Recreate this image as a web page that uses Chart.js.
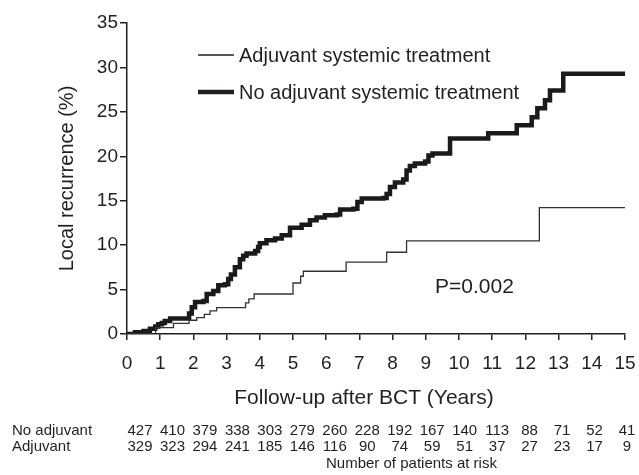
<!DOCTYPE html>
<html>
<head>
<meta charset="utf-8">
<script src="https://cdn.jsdelivr.net/npm/chart.js@4.4.1/dist/chart.umd.min.js"></script>
<style>
  html, body { margin: 0; padding: 0; background: #fff; }
</style>
</head>
<body>
<canvas id="km" width="639" height="475"></canvas>
<script>
'use strict';

// Kaplan-Meier local recurrence (years, %)
const noAdjYears = [0, 0.24, 0.5, 0.69, 0.85, 0.94, 1.05, 1.14, 1.3, 1.8, 1.87, 1.95, 2.05, 2.3, 2.4, 2.6, 2.75, 2.95,
  3.05, 3.13, 3.25, 3.4, 3.5, 3.6, 3.86, 3.95, 4.0, 4.2, 4.46, 4.66, 4.91, 5.26, 5.51, 5.71, 5.96, 6.32, 6.42,
  6.82, 6.94, 7.07, 7.72, 7.82, 7.92, 8.07, 8.32, 8.42, 8.52, 8.67, 8.98, 9.08, 9.2, 9.73, 10.88, 11.74, 12.19,
  12.36, 12.59, 12.74, 13.14, 15];
const noAdjPct = [0, 0.2, 0.35, 0.6, 0.85, 1.1, 1.25, 1.45, 1.75, 1.75, 2.3, 3.0, 3.6, 3.7, 4.5, 4.85, 5.5, 5.6,
  6.2, 6.7, 7.5, 8.4, 8.8, 9.05, 9.35, 9.8, 10.2, 10.55, 10.75, 11.1, 11.95, 12.3, 12.8, 13.1, 13.37, 13.45, 14.0,
  14.1, 14.85, 15.25, 15.3, 15.75, 16.55, 17.05, 17.4, 18.4, 18.9, 19.2, 19.4, 20.1, 20.3, 22.0, 22.6, 23.5, 24.4,
  25.4, 26.3, 27.4, 29.3, 29.3];

const adjYears = [0, 0.86, 1.4, 1.87, 2.1, 2.33, 2.5, 2.7, 3.57, 3.67, 3.83, 5.0, 5.23, 5.31, 6.6, 7.82, 8.42, 12.42, 15];
const adjPct = [0, 0.72, 1.2, 1.55, 1.85, 2.2, 2.6, 2.97, 3.5, 3.95, 4.5, 5.74, 6.5, 7.06, 8.1, 9.2, 10.47, 14.23, 14.23];

// patients at risk at each whole year
const riskNoAdj = [427, 410, 379, 338, 303, 279, 260, 228, 192, 167, 140, 113, 88, 71, 52, 41];
const riskAdj = [329, 323, 294, 241, 185, 146, 116, 90, 74, 59, 51, 37, 27, 23, 17, 9];

const seriesNames = ['Adjuvant systemic treatment', 'No adjuvant systemic treatment'];
const rowNames = ['No adjuvant', 'Adjuvant'];
const pValue = 'P=0.002';
const xTitle = 'Follow-up after BCT (Years)';

const ink = '#231f20';
const font = 'Liberation Sans, Arial, sans-serif';

const toPoints = (xs, ys) => xs.map((x, i) => ({ x: x, y: ys[i] }));

// legend, x title, p value and risk table
const extras = {
  id: 'extras',
  afterDraw(chart) {
    const ctx = chart.ctx;
    const xs = chart.scales.x;
    ctx.save();
    ctx.strokeStyle = ink;
    ctx.fillStyle = ink;
    ctx.lineCap = 'butt';

    // legend
    ctx.font = '20px ' + font;
    ctx.textBaseline = 'middle';
    ctx.textAlign = 'left';
    const legendY = [55, 92];
    const legendW = [1.3, 4.5];
    legendY.forEach((y, i) => {
      ctx.lineWidth = legendW[i];
      ctx.beginPath();
      ctx.moveTo(198, y);
      ctx.lineTo(234, y);
      ctx.stroke();
      ctx.fillText(seriesNames[i], 239, y + 1);
    });

    // x axis title
    ctx.font = '21px ' + font;
    ctx.textAlign = 'center';
    ctx.fillText(xTitle, 364, 398);

    // p value
    ctx.font = '21px ' + font;
    ctx.textAlign = 'left';
    ctx.fillText(pValue, 435, 287);

    // numbers at risk
    ctx.font = '15px ' + font;
    const rows = [riskNoAdj, riskAdj];
    const rowY = [431, 447];
    const first = xs.getPixelForValue(0) + 13;
    const last = xs.getPixelForValue(15) + 2;
    rows.forEach((vals, r) => {
      ctx.textAlign = 'left';
      ctx.fillText(rowNames[r], 12, rowY[r]);
      ctx.textAlign = 'center';
      vals.forEach((v, i) => {
        ctx.fillText(String(v), first + i * (last - first) / (vals.length - 1), rowY[r]);
      });
    });
    ctx.textAlign = 'left';
    ctx.fillText('Number of patients at risk', 326, 464);
    ctx.restore();
  }
};

new Chart(document.getElementById('km'), {
  type: 'line',
  data: {
    datasets: [{
      label: seriesNames[0],
      data: toPoints(adjYears, adjPct),
      borderColor: '#333',
      borderWidth: 1.3,
      stepped: 'before',
      pointRadius: 0,
      fill: false
    }, {
      label: seriesNames[1],
      data: toPoints(noAdjYears, noAdjPct),
      borderColor: '#1a1a1a',
      borderWidth: 4.5,
      stepped: 'before',
      pointRadius: 0,
      fill: false
    }]
  },
  options: {
    responsive: false,
    devicePixelRatio: 1,
    animation: false,
    layout: { padding: { left: 0, right: 14, top: 23, bottom: 0 } },
    plugins: { legend: { display: false }, tooltip: { enabled: false } },
    scales: {
      x: {
        type: 'linear',
        min: 0,
        max: 15,
        afterFit: s => { s.height = 141; },
        ticks: { stepSize: 1, color: ink, padding: 3, font: { family: font, size: 19, lineHeight: 2.2 } },
        grid: { drawOnChartArea: false, drawTicks: true, tickLength: 6, color: ink, lineWidth: 1.5 },
        border: { display: true, color: ink, width: 1.5 }
      },
      y: {
        min: 0,
        max: 35,
        afterFit: s => { s.width = 127; },
        ticks: { stepSize: 5, color: ink, padding: 2, font: { family: font, size: 19 } },
        grid: { drawOnChartArea: false, drawTicks: true, tickLength: 7, color: ink, lineWidth: 1.5 },
        border: { display: true, color: ink, width: 1.5 },
        title: {
          display: true,
          text: 'Local recurrence (%)',
          color: ink,
          font: { family: font, size: 20 },
          padding: { top: 55, bottom: 0 }
        }
      }
    }
  },
  plugins: [extras]
});
</script>
</body>
</html>
